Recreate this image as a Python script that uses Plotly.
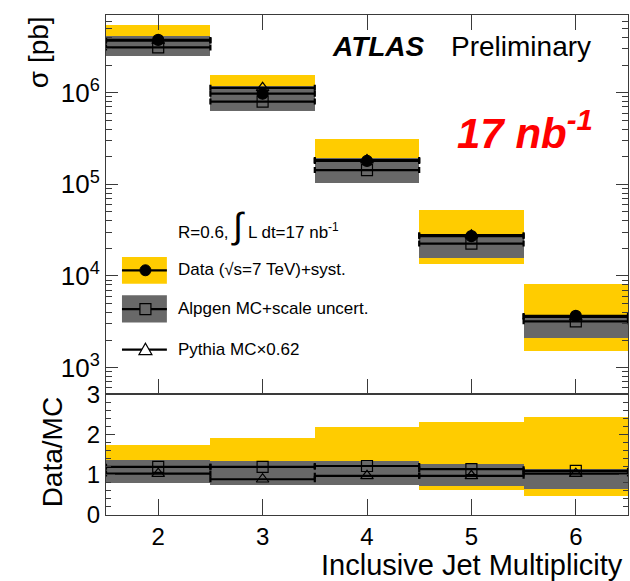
import plotly.graph_objects as go

# ---- data -------------------------------------------------------------
jets = [2, 3, 4, 5, 6]

# cross sections [pb]
data_xs = [3.77e6, 9.75e5, 1.80e5, 2.72e4, 3.67e3]
data_syst_hi = [5.44e6, 1.56e6, 3.10e5, 5.21e4, 8.13e3]
data_syst_lo = [2.70e6, 6.60e5, 1.10e5, 1.34e4, 1.53e3]

alpgen_xs = [3.12e6, 8.00e5, 1.43e5, 2.26e4, 3.20e3]
alpgen_hi = [4.17e6, 1.18e6, 1.92e5, 2.86e4, 3.77e3]
alpgen_lo = [2.52e6, 6.32e5, 1.03e5, 1.58e4, 2.13e3]

pythia_xs = [3.70e6, 1.13e6, 1.84e5, 2.79e4, 3.58e3]

# Data/MC ratios
ratio_alpgen = [1.20, 1.20, 1.22, 1.14, 1.10]
ratio_pythia = [1.03, 0.89, 0.975, 0.975, 1.03]
ratio_syst_hi = [1.74, 1.90, 2.18, 2.30, 2.43]
ratio_syst_lo = [0.85, 0.80, 0.80, 0.60, 0.455]
ratio_scale_hi = [1.356, 1.339, 1.33, 1.257, 1.14]
ratio_scale_lo = [0.786, 0.744, 0.744, 0.719, 0.637]

y_major = [1e3, 1e4, 1e5, 1e6]
y_major_text = ["10<sup>3</sup>", "10<sup>4</sup>", "10<sup>5</sup>", "10<sup>6</sup>"]

# ---- style ------------------------------------------------------------
YELLOW = "#FFCC00"
GREY = "#686868"
FRAME = "#3a3a3a"
FONT = "Liberation Sans, Arial, sans-serif"

W, H = 630, 581
PL, PR, PT, PB = 106, 629, 13, 515
SPLIT = 394  # pixel row where the ratio panel meets the main panel


def xp(px):
    return (px - PL) / (PR - PL)


def yp(py):
    return (PB - py) / (PB - PT)


fig = go.Figure()


def band(lo, hi, color, yaxis):
    return go.Bar(
        x=jets, y=[h - l for h, l in zip(hi, lo)], base=lo, width=1.0,
        marker=dict(color=color, line=dict(width=0)),
        xaxis="x" if yaxis == "y" else "x2", yaxis=yaxis,
        showlegend=False, hoverinfo="skip",
    )


def hline(vals, symbol, size, fill, yaxis):
    return go.Scatter(
        x=jets, y=vals, mode="markers",
        marker=dict(symbol=symbol, size=size, color=fill,
                    line=dict(color="black", width=1.2)),
        error_x=dict(type="constant", value=0.5, thickness=2.2, width=3,
                     color="black"),
        xaxis="x" if yaxis == "y" else "x2", yaxis=yaxis,
        showlegend=False, hoverinfo="skip",
    )


# main panel
fig.add_trace(band(data_syst_lo, data_syst_hi, YELLOW, "y2"))
fig.add_trace(band(alpgen_lo, alpgen_hi, GREY, "y2"))
fig.add_trace(hline(pythia_xs, "triangle-up-open", 11, "black", "y2"))
fig.add_trace(hline(alpgen_xs, "square-open", 11, "black", "y2"))
fig.add_trace(hline(data_xs, "circle", 11, "black", "y2"))

# ratio panel
fig.add_trace(band(ratio_syst_lo, ratio_syst_hi, YELLOW, "y"))
fig.add_trace(band(ratio_scale_lo, ratio_scale_hi, GREY, "y"))
fig.add_trace(hline(ratio_pythia, "triangle-up-open", 11, "black", "y"))
fig.add_trace(hline(ratio_alpgen, "square-open", 11, "black", "y"))

split_frac = yp(SPLIT)

axis_common = dict(showline=True, linecolor=FRAME, linewidth=1, ticks="inside",
                   tickcolor=FRAME, showgrid=False, zeroline=False)

fig.update_layout(
    width=W, height=H,
    margin=dict(l=PL, r=W - PR, t=PT, b=H - PB, pad=0),
    paper_bgcolor="white", plot_bgcolor="white",
    barmode="overlay", bargap=0,
    font=dict(family=FONT, color="black"),
    xaxis=dict(**axis_common, domain=[0, 1], anchor="y", range=[1.5, 6.5],
               tickvals=jets, ticklen=16, mirror=True,
               tickfont=dict(size=24, family=FONT)),
    xaxis2=dict(**axis_common, domain=[0, 1], anchor="y2", range=[1.5, 6.5],
                matches="x", tickvals=jets, ticklen=15, mirror="ticks",
                showticklabels=False),
    yaxis=dict(**axis_common, domain=[0, split_frac], anchor="x",
               range=[0, 3], tickvals=[0, 1, 2, 3], ticklen=9, mirror="ticks",
               tickfont=dict(size=24, family=FONT),
               minor=dict(dtick=0.2, ticklen=5, ticks="inside", tickcolor=FRAME)),
    yaxis2=dict(**axis_common, domain=[split_frac, 1], anchor="x2", type="log",
                range=[2.707, 6.848], tickvals=y_major, ticktext=y_major_text,
                ticklen=12, mirror="ticks",
                tickfont=dict(size=26, family=FONT),
                minor=dict(tickvals=[k * 10 ** e for e in range(2, 7) for k in range(2, 10)],
                           ticklen=6, ticks="inside", tickcolor=FRAME)),
)

annotations = [
    dict(text="σ [pb]", x=xp(38), y=yp(12), xanchor="center", yanchor="top",
         textangle=-90, font=dict(size=28)),
    dict(text="Data/MC", x=xp(52), y=yp(452), xanchor="center", yanchor="middle",
         textangle=-90, font=dict(size=28)),
    dict(text="Inclusive Jet Multiplicity", x=xp(626), y=yp(565), xanchor="right",
         yanchor="middle", font=dict(size=29)),
    dict(text="<b><i>ATLAS</i></b>", x=xp(330), y=yp(45), xanchor="left",
         yanchor="middle", font=dict(size=28)),
    dict(text="Preliminary", x=xp(450), y=yp(45), xanchor="left",
         yanchor="middle", font=dict(size=28)),
    dict(text="<b><i>17 nb<sup>-1</sup></i></b>", x=xp(456), y=yp(128),
         xanchor="left", yanchor="middle", font=dict(size=42, color="#FF0000")),
    dict(text="R=0.6, <span style='font-size:36px'>∫</span> L dt=17 nb<sup>-1</sup>",
         x=xp(176), y=yp(224), xanchor="left", yanchor="middle",
         font=dict(size=17)),
    dict(text="Data (√s=7 TeV)+syst.", x=xp(176), y=yp(269), xanchor="left",
         yanchor="middle", font=dict(size=17)),
    dict(text="Alpgen MC+scale uncert.", x=xp(176), y=yp(308), xanchor="left",
         yanchor="middle", font=dict(size=17)),
    dict(text="Pythia MC×0.62", x=xp(176), y=yp(349), xanchor="left",
         yanchor="middle", font=dict(size=17)),
]
for a in annotations:
    a.update(xref="paper", yref="paper", showarrow=False)
fig.update_layout(annotations=annotations)

# legend glyphs
LX0, LX1, LXC = 122, 167, 145.5
shapes = [
    dict(type="rect", x0=xp(LX0), x1=xp(LX1), y0=yp(282.7), y1=yp(256),
         fillcolor=YELLOW, line=dict(width=0)),
    dict(type="rect", x0=xp(LX0), x1=xp(LX1), y0=yp(321.7), y1=yp(294.3),
         fillcolor=GREY, line=dict(width=0)),
]
for ly in (269.3, 308.3, 349):
    shapes.append(dict(type="line", x0=xp(LX0), x1=xp(LX1), y0=yp(ly), y1=yp(ly),
                       line=dict(color="black", width=2.2)))
shapes.append(dict(type="circle", xsizemode="pixel", ysizemode="pixel",
                   xanchor=xp(LXC), yanchor=yp(269.3), x0=-5.5, x1=5.5, y0=-5.5, y1=5.5,
                   fillcolor="black", line=dict(color="black", width=1)))
shapes.append(dict(type="rect", xsizemode="pixel", ysizemode="pixel",
                   xanchor=xp(LXC), yanchor=yp(308.3), x0=-5.5, x1=5.5, y0=-5.5, y1=5.5,
                   fillcolor=GREY, line=dict(color="black", width=1.2)))
shapes.append(dict(type="path", xsizemode="pixel", ysizemode="pixel",
                   xanchor=xp(LXC), yanchor=yp(349),
                   path="M -6.5,-5 L 6.5,-5 L 0,6.5 Z",
                   fillcolor="white", line=dict(color="black", width=1.2)))
for s in shapes:
    s.update(xref="paper", yref="paper", layer="above")
fig.update_layout(shapes=shapes)

fig.write_html("out.html")
